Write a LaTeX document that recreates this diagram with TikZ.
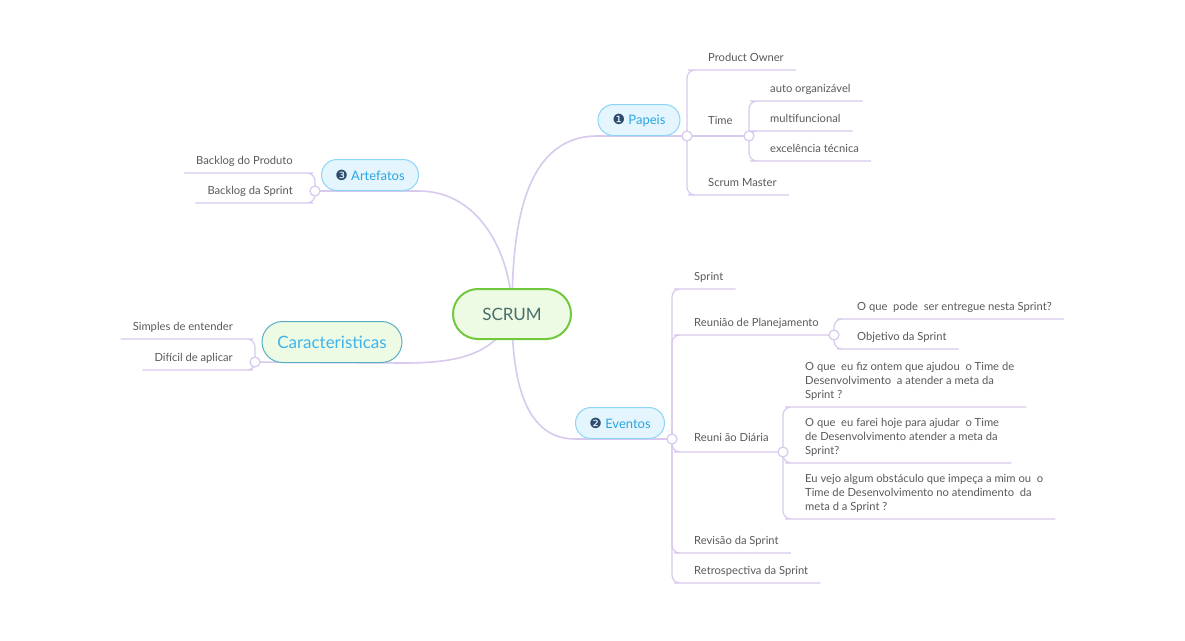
\documentclass[tikz,border=0pt]{standalone}
\usepackage{fontspec}
\setmainfont{Lato}
\newfontfamily\symfont{DejaVu Sans}
\usepackage{xcolor}
\usetikzlibrary{positioning,calc,backgrounds}

\definecolor{branch}{HTML}{D8C9EE}
\definecolor{pillfill}{HTML}{E4F5FD}
\definecolor{pillborder}{HTML}{8CD5F7}
\definecolor{pilltext}{HTML}{2AA5E5}
\definecolor{rootfill}{HTML}{EDFBE5}
\definecolor{rootborder}{HTML}{72C83D}
\definecolor{roottext}{HTML}{4A6E6A}
\definecolor{carborder}{HTML}{5BADC4}
\definecolor{cartext}{HTML}{3FB4EA}
\definecolor{badgeblue}{HTML}{2E4B6E}
\definecolor{leaftext}{HTML}{5A5A5A}

\newcommand{\badge}[1]{{\symfont\fontsize{14}{15}\selectfont\color{badgeblue}#1}}

\begin{document}
\begin{tikzpicture}[x=1pt,y=-1pt,
    pill/.style={rectangle,rounded corners=15.5pt,draw=pillborder,fill=pillfill,line width=1pt,
        text=pilltext,font=\fontsize{13}{15}\selectfont,minimum height=31pt,inner sep=0pt},
    leaf/.style={inner xsep=12pt,inner ysep=5pt,text depth=3pt,text=leaftext,
        font=\fontsize{11.2}{14}\selectfont,align=left},
    knob/.style={circle,draw=branch,fill=white,line width=1.2pt,minimum size=10pt,inner sep=0pt},
    main/.style={draw=branch,line width=1.6pt},
    twig/.style={draw=branch,line width=1.2pt,rounded corners=8pt}]

\useasboundingbox (0,0) rectangle (1185,640);

% centre and main topics
\node[rectangle,rounded corners=25pt,draw=rootborder,fill=rootfill,line width=2pt,text=roottext,
    font=\fontsize{17}{20}\selectfont,minimum width=118pt,minimum height=50pt] (scrum) at (512,314) {SCRUM};
\node[pill,minimum width=82pt] (pap) at (639,120) {\badge{❶} Papeis};
\node[pill,minimum width=97pt] (art) at (370,175) {\badge{❸} Artefatos};
\node[pill,minimum width=89pt] (evt) at (620,423) {\badge{❷} Eventos};
\node[pill,rounded corners=20.5pt,minimum width=140pt,minimum height=41pt,fill=rootfill,draw=carborder,
    text=cartext,font=\fontsize{17}{20}\selectfont] (car) at (332,342) {Caracteristicas};

\node[knob] (papc) at (687,136) {};
\node[knob] (artc) at (315,191) {};
\node[knob] (evtc) at (672,439) {};
\node[knob] (carc) at (255,362) {};

% Papeis
\node[leaf,anchor=south west] (po) at (696,70) {Product Owner};
\node[leaf,anchor=south west,inner ysep=8pt] (time) at (696,136) {Time};
\node[leaf,anchor=south west] (sm) at (696,195) {Scrum Master};
\node[knob] (timec) at (749,136) {};
\node[leaf,anchor=south west] (auto) at (758,101) {auto organizável};
\node[leaf,anchor=south west] (multi) at (758,131) {multifuncional};
\node[leaf,anchor=south west] (exc) at (758,161) {excelência técnica};

% Artefatos
\node[leaf,anchor=south east] (bp) at (305,173) {Backlog do Produto};
\node[leaf,anchor=south east] (bs) at (305,203) {Backlog da Sprint};

% Caracteristicas
\node[leaf,anchor=south east] (simp) at (245,339) {Simples de entender};
\node[leaf,anchor=south east] (dif) at (245,370) {Difícil de aplicar};

% Eventos
\node[leaf,anchor=south west] (spr) at (682,289) {Sprint};
\node[leaf,anchor=south west] (plan) at (682,335) {Reunião de Planejamento};
\node[knob] (planc) at (834,335) {};
\node[leaf,anchor=south west] (ent) at (845,319) {O que~ pode~ ser entregue nesta Sprint?};
\node[leaf,anchor=south west] (obj) at (845,349) {Objetivo da Sprint};
\node[leaf,anchor=south west,inner ysep=7pt] (dia) at (682,452) {Reuni ão Diária};
\node[knob] (diac) at (783,452) {};
\node[leaf,anchor=south west] (q1) at (793,407) {O que~ eu fiz ontem que ajudou~ o Time de\\Desenvolvimento~ a atender a meta da\\Sprint ?};
\node[leaf,anchor=south west] (q2) at (793,463) {O que~ eu farei hoje para ajudar~ o Time\\de Desenvolvimento atender a meta da\\Sprint?};
\node[leaf,anchor=south west] (q3) at (793,519) {Eu vejo algum obstáculo que impeça a mim ou~ o\\Time de Desenvolvimento no atendimento~ da\\meta d a Sprint ?};
\node[leaf,anchor=south west] (rev) at (682,553) {Revisão da Sprint};
\node[leaf,anchor=south west] (ret) at (682,583) {Retrospectiva da Sprint};

\begin{scope}[on background layer]
    \fill[white] (0,0) rectangle (1185,640);
    \draw[main] (scrum.center) to[out=90,in=180] (pap.south west) -- (papc.center);
    \draw[main] (scrum.center) to[out=90,in=0] (art.south east) -- (artc.center);
    \draw[main] (scrum.center) to[out=-90,in=180] (evt.south west) -- (evtc.center);
    \draw[main] (scrum.center) to[out=-110,in=0] (car.south east) -- (carc.center);

    \draw[twig] (papc.center) |- (po.south west) -- (po.south east);
    \draw[twig] (papc.center) -- (time.south west) -- (timec.center);
    \draw[twig] (papc.center) |- (sm.south west) -- (sm.south east);
    \draw[twig] (timec.center) |- (auto.south west) -- (auto.south east);
    \draw[twig] (timec.center) |- (multi.south west) -- (multi.south east);
    \draw[twig] (timec.center) |- (exc.south west) -- (exc.south east);

    \draw[twig] (artc.center) |- (bp.south east) -- (bp.south west);
    \draw[twig] (artc.center) |- (bs.south east) -- (bs.south west);
    \draw[twig] (carc.center) |- (simp.south east) -- (simp.south west);
    \draw[twig] (carc.center) |- (dif.south east) -- (dif.south west);

    \draw[twig] (evtc.center) |- (spr.south west) -- (spr.south east);
    \draw[twig] (evtc.center) |- (plan.south west) -- (planc.center);
    \draw[twig] (planc.center) |- (ent.south west) -- (ent.south east);
    \draw[twig] (planc.center) |- (obj.south west) -- (obj.south east);
    \draw[twig] (evtc.center) |- (dia.south west) -- (diac.center);
    \draw[twig] (diac.center) |- (q1.south west) -- (q1.south east);
    \draw[twig] (diac.center) |- (q2.south west) -- (q2.south east);
    \draw[twig] (diac.center) |- (q3.south west) -- (q3.south east);
    \draw[twig] (evtc.center) |- (rev.south west) -- (rev.south east);
    \draw[twig] (evtc.center) |- (ret.south west) -- (ret.south east);
\end{scope}
\end{tikzpicture}
\end{document}
